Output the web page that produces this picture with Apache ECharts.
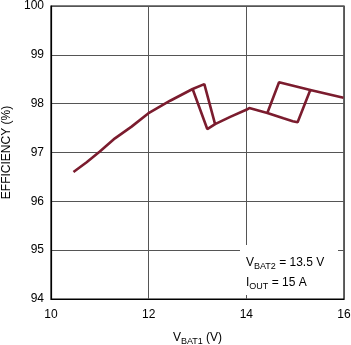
<!DOCTYPE html>
<html><head><meta charset="utf-8">
<script src="https://cdn.jsdelivr.net/npm/echarts@6/dist/echarts.min.js"></script>
<style>html,body{margin:0;padding:0;background:#fff}#c{width:351px;height:345px}</style>
</head><body><div id="c"></div>
<script>
// Main sweep (start -> first loop right edge -> second loop bottom/right -> end)
const mainCurve = [[10.46,96.60],[10.73,96.80],[11.0,97.02],[11.31,97.29],[11.65,97.53],[11.99,97.80],[12.44,98.06],[12.9,98.30],[13.14,98.40],[13.36,97.58],[13.67,97.73],[14.01,97.88],[14.06,97.91],[14.43,97.81],[14.76,97.70],[14.95,97.64],[15.05,97.62],[15.31,98.28],[15.99,98.12]];
// First loop left/bottom edges
const loop1 = [[12.9,98.30],[13.20,97.48],[13.36,97.58]];
// Second loop left/top edges
const loop2 = [[14.43,97.81],[14.67,98.44],[15.31,98.28]];
const xTicks = [10,12,14,16];
const yTicks = [94,95,96,97,98,99,100];
const annotation = ['V{s|BAT2} = 13.5 V','I{s|OUT} = 15 A'];

const font = '"Liberation Sans", Arial, sans-serif';
const col = '#7b1c2e';
const chart = echarts.init(document.getElementById('c'), null, {renderer:'canvas'});
const lineS = d => ({type:'line', data:d, showSymbol:false, symbol:'none', lineStyle:{color:col,width:2.6}, z:5, animation:false});
chart.setOption({
  animation:false,
  grid:{left:51,right:7,top:6,bottom:46,show:true,borderColor:'#000',borderWidth:1.2,outerBoundsMode:'none',containLabel:false},
  xAxis:{type:'value',min:xTicks[0],max:xTicks[xTicks.length-1],interval:2,
    axisLine:{show:true,lineStyle:{color:'#000',width:1.2}},axisTick:{show:false},
    axisLabel:{color:'#000',fontSize:12,fontFamily:font,margin:10},
    splitLine:{show:true,lineStyle:{color:'#555',width:1}},
    name:'V{s|BAT1} (V)',nameLocation:'middle',nameGap:31,
    nameTextStyle:{color:'#000',fontSize:12,fontFamily:font,rich:{s:{fontSize:9,fontFamily:font,padding:[7,0,0,0]}}}},
  yAxis:{type:'value',min:yTicks[0],max:yTicks[yTicks.length-1],interval:1,
    axisLine:{show:true,lineStyle:{color:'#000',width:1.2}},axisTick:{show:false},
    axisLabel:{color:'#000',fontSize:12,fontFamily:font,margin:7},
    splitLine:{show:true,lineStyle:{color:'#555',width:1}},
    name:'EFFICIENCY (%)',nameLocation:'middle',nameGap:38,
    nameTextStyle:{color:'#000',fontSize:12,fontFamily:font}},
  graphic:[
    {type:'rect',shape:{x:240,y:245,width:98,height:50},style:{fill:'#fff'},z:10},
    {type:'text',x:246,y:253,z:11,style:{text:annotation.join('\n'),fill:'#000',font:'12px '+font,lineHeight:20,
      rich:{s:{fontSize:9,fontFamily:font,padding:[7,0,0,0]}}}}
  ],
  series:[lineS(mainCurve),lineS(loop1),lineS(loop2)]
});
</script></body></html>
